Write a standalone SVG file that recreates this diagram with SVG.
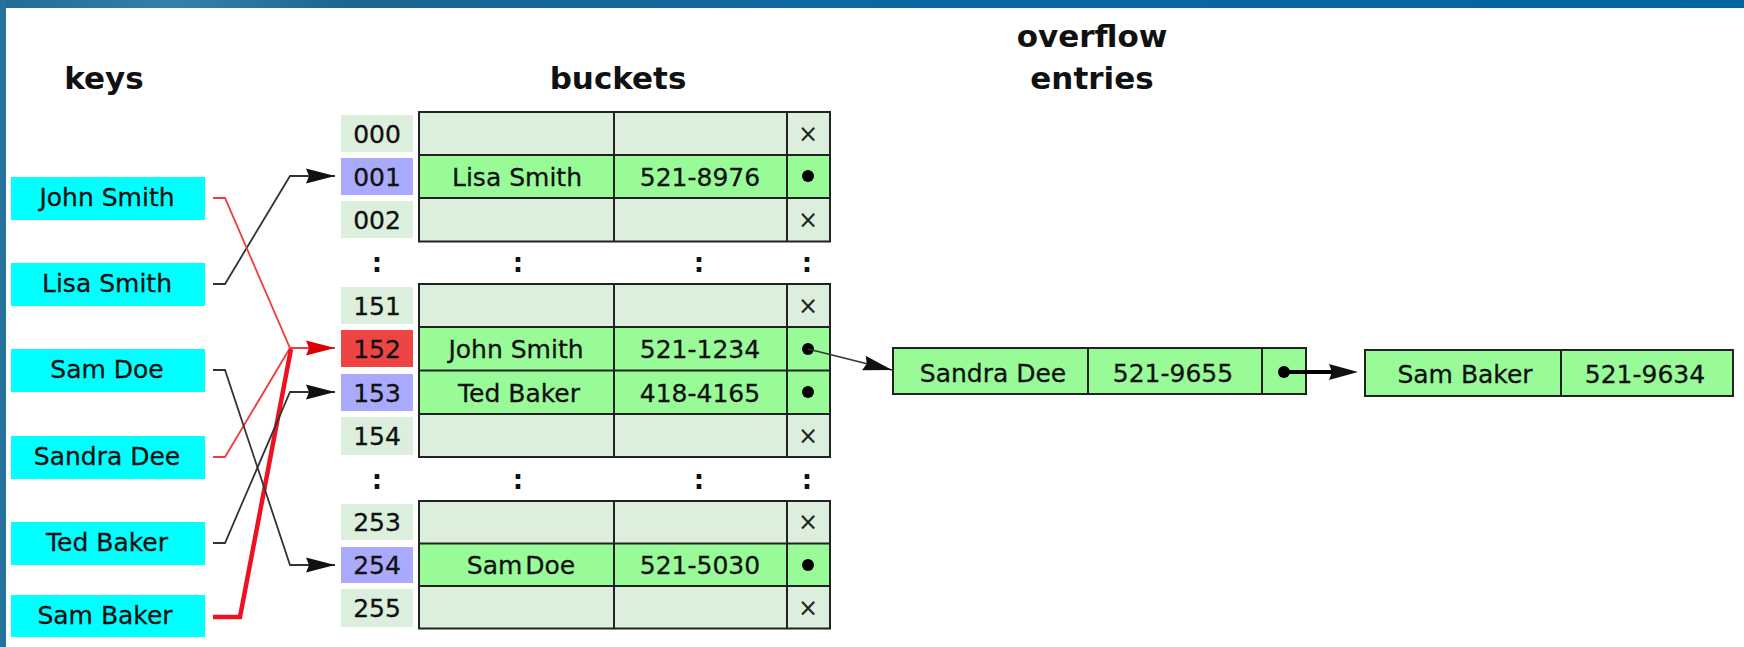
<svg xmlns="http://www.w3.org/2000/svg" width="1744" height="647" viewBox="0 0 1744 647">
<defs>
<linearGradient id="topbar" x1="0" y1="0" x2="1" y2="0">
<stop offset="0" stop-color="#1f6c96"/>
<stop offset="0.1" stop-color="#3482ac"/>
<stop offset="0.2" stop-color="#1a6592"/>
<stop offset="0.5" stop-color="#0d68a2"/>
<stop offset="1" stop-color="#0064a0"/>
</linearGradient>
<marker id="ab" markerUnits="userSpaceOnUse" markerWidth="30" markerHeight="16" refX="29" refY="8" orient="auto" viewBox="0 0 30 16">
<path d="M0,0.5 L29,8 L0,15.5 L3,8 z" fill="#111"/>
</marker>
<marker id="ar" markerUnits="userSpaceOnUse" markerWidth="30" markerHeight="16" refX="29" refY="8" orient="auto" viewBox="0 0 30 16">
<path d="M0,0.5 L29,8 L0,15.5 L3,8 z" fill="#dd0000"/>
</marker>
<style>
text{font-family:"DejaVu Sans","Liberation Sans",sans-serif;fill:#111}
.title{font-size:31px;font-weight:bold;text-anchor:middle}
.t{font-size:25px;text-anchor:middle;stroke:#111;stroke-width:0.3}
.key{fill:#00ffff}
.idx{fill:#dcefdc}
.idxp{fill:#aaaafc}
.idxr{fill:#ee4444}
.empty{fill:#dcefdc}
.full{fill:#98fb98}
.grid{fill:none;stroke:#222;stroke-width:2}
.col{font-size:26px;font-weight:bold;text-anchor:middle}
.x{font-size:24px;text-anchor:middle;fill:#222}
.blk{fill:none;stroke:#333;stroke-width:1.8}
.red{fill:none;stroke:#f03c3c;stroke-width:1.8}
.redt{fill:none;stroke:#ee1122;stroke-width:4.5}
</style>
</defs>
<rect x="0" y="0" width="1744" height="647" fill="#ffffff"/>
<rect x="0" y="0" width="1744" height="8" fill="url(#topbar)"/>
<rect x="0" y="0" width="6" height="647" fill="#25719c"/>

<g id="titles">
<text class="title" x="104" y="89">keys</text>
<text class="title" x="618" y="89">buckets</text>
<text class="title" x="1092" y="47">overflow</text>
<text class="title" x="1092" y="89">entries</text>
</g>

<g id="key-john"><rect class="key" x="11" y="177" width="194" height="43"/><text class="t" x="107" y="206">John Smith</text></g>
<g id="key-lisa"><rect class="key" x="11" y="263" width="194" height="43"/><text class="t" x="107" y="292">Lisa Smith</text></g>
<g id="key-samdoe"><rect class="key" x="11" y="349" width="194" height="43"/><text class="t" x="107" y="378">Sam Doe</text></g>
<g id="key-sandra"><rect class="key" x="11" y="436" width="194" height="43"/><text class="t" x="107" y="465">Sandra Dee</text></g>
<g id="key-ted"><rect class="key" x="11" y="522" width="194" height="43"/><text class="t" x="107" y="551">Ted Baker</text></g>
<g id="key-sambaker"><rect class="key" x="11" y="595" width="194" height="42"/><text class="t" x="105" y="624">Sam Baker</text></g>

<g id="bucket-table-1">
<rect class="empty" x="419" y="112" width="411" height="43"/>
<rect class="full" x="419" y="155" width="411" height="43"/>
<rect class="empty" x="419" y="198" width="411" height="43.5"/>
<path class="grid" d="M419,112 H830 V241.5 H419 Z M419,155 H830 M419,198 H830 M614,112 V241.5 M787,112 V241.5"/>
<rect class="idx" x="341" y="115" width="72" height="37"/><text class="t" x="377" y="143">000</text>
<rect class="idxp" x="341" y="158" width="72" height="37"/><text class="t" x="377" y="186">001</text>
<rect class="idx" x="341" y="201" width="72" height="37"/><text class="t" x="377" y="229">002</text>
<text class="x" x="808" y="142">×</text>
<text class="t" x="517" y="186">Lisa Smith</text><text class="t" x="700" y="186">521-8976</text><circle cx="808" cy="176" r="6" fill="#000"/>
<text class="x" x="808" y="228">×</text>
</g>

<g id="ellipsis-1">
<text class="col" x="377" y="272">:</text><text class="col" x="518" y="272">:</text><text class="col" x="699" y="272">:</text><text class="col" x="807" y="272">:</text>
</g>

<g id="bucket-table-2">
<rect class="empty" x="419" y="284" width="411" height="43"/>
<rect class="full" x="419" y="327" width="411" height="43.5"/>
<rect class="full" x="419" y="370.5" width="411" height="43.5"/>
<rect class="empty" x="419" y="414" width="411" height="43"/>
<path class="grid" d="M419,284 H830 V457 H419 Z M419,327 H830 M419,370.5 H830 M419,414 H830 M614,284 V457 M787,284 V457"/>
<rect class="idx" x="341" y="287" width="72" height="37"/><text class="t" x="377" y="315">151</text>
<rect class="idxr" x="341" y="330" width="72" height="37"/><text class="t" x="377" y="358">152</text>
<rect class="idxp" x="341" y="374" width="72" height="37"/><text class="t" x="377" y="402">153</text>
<rect class="idx" x="341" y="417" width="72" height="38"/><text class="t" x="377" y="445">154</text>
<text class="x" x="808" y="314">×</text>
<text class="t" x="516" y="358">John Smith</text><text class="t" x="700" y="358">521-1234</text><circle cx="808" cy="349" r="6" fill="#000"/>
<text class="t" x="519" y="402">Ted Baker</text><text class="t" x="700" y="402">418-4165</text><circle cx="808" cy="392" r="6" fill="#000"/>
<text class="x" x="808" y="444">×</text>
</g>

<g id="ellipsis-2">
<text class="col" x="377" y="489">:</text><text class="col" x="518" y="489">:</text><text class="col" x="699" y="489">:</text><text class="col" x="807" y="489">:</text>
</g>

<g id="bucket-table-3">
<rect class="empty" x="419" y="501" width="411" height="42.5"/>
<rect class="full" x="419" y="543.5" width="411" height="42.5"/>
<rect class="empty" x="419" y="586" width="411" height="42.5"/>
<path class="grid" d="M419,501 H830 V628.5 H419 Z M419,543.5 H830 M419,586 H830 M614,501 V628.5 M787,501 V628.5"/>
<rect class="idx" x="341" y="504" width="72" height="36"/><text class="t" x="377" y="531">253</text>
<rect class="idxp" x="341" y="547" width="72" height="36"/><text class="t" x="377" y="574">254</text>
<rect class="idx" x="341" y="589" width="72" height="38"/><text class="t" x="377" y="617">255</text>
<text class="x" x="808" y="530">×</text>
<text class="t" x="521" y="574" word-spacing="-5">Sam Doe</text><text class="t" x="700" y="574">521-5030</text><circle cx="808" cy="565" r="6" fill="#000"/>
<text class="x" x="808" y="616">×</text>
</g>

<g id="overflow-sandra">
<rect class="full" x="893" y="348" width="413" height="46"/>
<path class="grid" d="M893,348 H1306 V394 H893 Z M1088,348 V394 M1262,348 V394"/>
<text class="t" x="993" y="382">Sandra Dee</text><text class="t" x="1173" y="382">521-9655</text>
<circle cx="1284" cy="372" r="6" fill="#000"/>
</g>

<g id="overflow-sambaker">
<rect class="full" x="1365" y="350" width="368" height="46"/>
<path class="grid" d="M1365,350 H1733 V396 H1365 Z M1561,350 V396"/>
<text class="t" x="1465" y="383">Sam Baker</text><text class="t" x="1645" y="383">521-9634</text>
</g>

<g id="connectors">
<path class="blk" d="M213,284 H225 L290,176 H335" marker-end="url(#ab)"/>
<path class="red" d="M213,198 H225 L290,348 H335" marker-end="url(#ar)"/>
<path class="red" d="M213,457 H225 L290,348"/>
<path class="redt" d="M213,617 H240 L291,349"/>
<path class="blk" d="M213,370 H225 L290,565 H335" marker-end="url(#ab)"/>
<path class="blk" d="M213,543 H225 L290,392 H335" marker-end="url(#ab)"/>
<path class="blk" d="M808,349 L892,370" marker-end="url(#ab)"/>
<path fill="none" stroke="#000" stroke-width="4" d="M1284,372 H1332"/>
<path d="M1329,364 L1358,372 L1329,380 L1332,372 z" fill="#111"/>
</g>
</svg>
